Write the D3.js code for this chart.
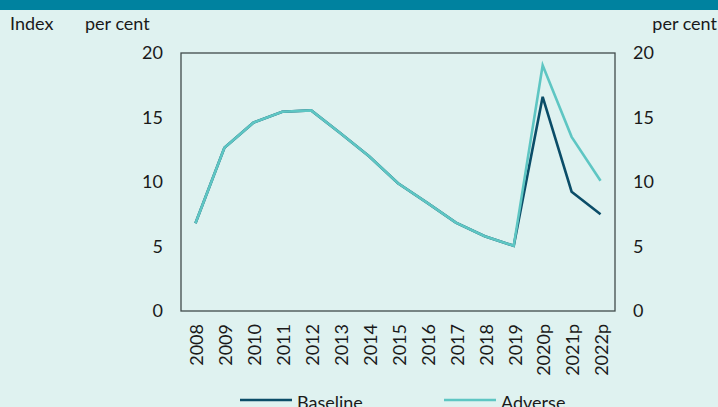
<!DOCTYPE html>
<html><head><meta charset="utf-8">
<script src="https://cdn.jsdelivr.net/npm/d3@7"></script>
<style>
html,body{margin:0;padding:0;background:#dff2f0;}
svg{display:block;font-family:Lato,"Open Sans",sans-serif;}
</style></head>
<body>
<svg id="c" width="718" height="407"></svg>
<script>
const categories = ["2008","2009","2010","2011","2012","2013","2014","2015","2016","2017","2018","2019","2020p","2021p","2022p"];
const baseline = [6.8,12.65,14.6,15.45,15.55,13.8,12.0,9.9,8.4,6.85,5.8,5.05,16.6,9.25,7.5];
const adverse  = [6.8,12.65,14.6,15.45,15.55,13.8,12.0,9.9,8.4,6.85,5.8,5.05,19.05,13.5,10.1];
const yTicks = [0,5,10,15,20];
const seriesNames = ["Baseline","Adverse"];
const colors = ["#0b4d68","#5ec6c3"];

const svg = d3.select("#c");
const W = 718, H = 407;
svg.append("rect").attr("width",W).attr("height",H).attr("fill","#dff2f0");
svg.append("rect").attr("width",W).attr("height",10).attr("fill","#00829f");

const L = 181, R = 615, T = 53, B = 311;
const x = d3.scalePoint().domain(categories).range([L,R]).padding(0.5);
const y = d3.scaleLinear().domain([0,20]).range([B,T]);

// frame
svg.append("rect").attr("x",L).attr("y",T).attr("width",R-L).attr("height",B-T)
  .attr("fill","none").attr("stroke","#404a4a").attr("stroke-width",1.3);

const fs = 18;
// left axis
const la = svg.append("g").attr("transform",`translate(${L},0)`)
  .call(d3.axisLeft(y).tickValues(yTicks).tickSize(0).tickPadding(18));
const ra = svg.append("g").attr("transform",`translate(${R},0)`)
  .call(d3.axisRight(y).tickValues(yTicks).tickSize(0).tickPadding(18));
[la,ra].forEach(g=>{
  g.select(".domain").remove();
  g.selectAll("text").attr("font-size",fs).attr("fill","#1a1a1a").attr("font-family","Lato");
});
// x axis
const xa = svg.append("g").attr("transform",`translate(0,${B})`)
  .call(d3.axisBottom(x).tickSize(0).tickPadding(0));
xa.select(".domain").remove();
xa.selectAll("text").attr("font-size",fs).attr("fill","#1a1a1a").attr("font-family","Lato")
  .attr("transform","rotate(-90)").attr("text-anchor","end")
  .attr("x",-13).attr("y",1).attr("dy","0.35em");

// lines (baseline first, adverse on top)
const line = d3.line().x((d,i)=>x(categories[i])).y(d=>y(d));
[baseline, adverse].forEach((s,k)=>{
  svg.append("path").datum(s).attr("d",line).attr("fill","none")
    .attr("stroke",colors[k]).attr("stroke-width",2.6).attr("stroke-linejoin","miter");
});

// header labels
const hdr = svg.append("g").attr("font-size",fs).attr("fill","#1a1a1a");
hdr.append("text").attr("x",10).attr("y",30).text("Index");
hdr.append("text").attr("x",85).attr("y",30).text("per cent");
hdr.append("text").attr("x",717).attr("y",30).attr("text-anchor","end").text("per cent");

// legend
const lg = svg.append("g");
const lx = [240,444];
seriesNames.forEach((n,i)=>{
  lg.append("line").attr("x1",lx[i]).attr("x2",lx[i]+52).attr("y1",400).attr("y2",400)
    .attr("stroke",colors[i]).attr("stroke-width",2.6);
  lg.append("text").attr("x",lx[i]+57).attr("y",409).attr("font-size",fs).attr("fill","#1a1a1a").text(n);
});
</script>
</body></html>
